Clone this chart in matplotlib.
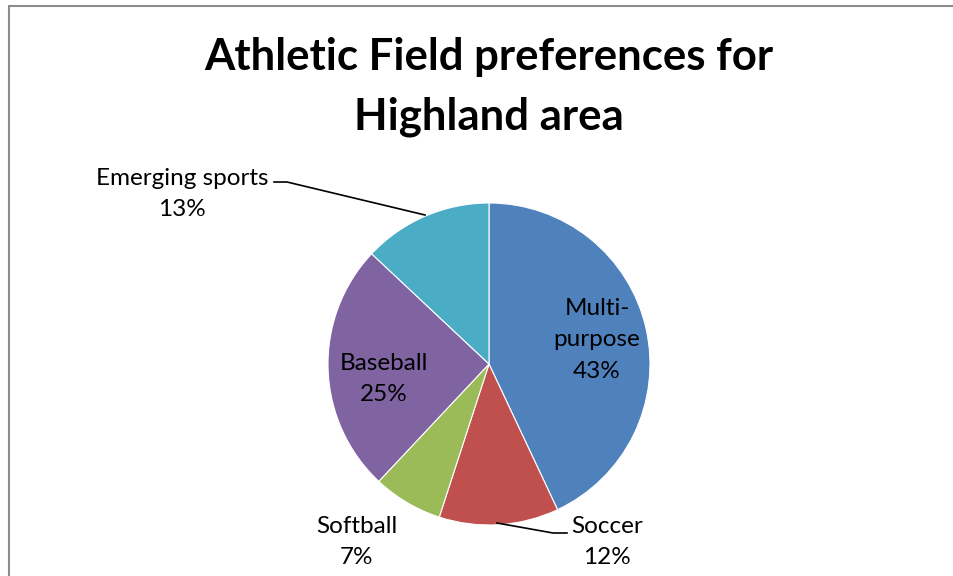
import matplotlib
matplotlib.use("Agg")
import matplotlib.pyplot as plt
from matplotlib.patches import Rectangle

categories = ["Multi-purpose", "Soccer", "Softball", "Baseball", "Emerging sports"]
display_labels = ["Multi-\npurpose", "Soccer", "Softball", "Baseball", "Emerging sports"]
values = [43, 12, 7, 25, 13]
colors = ["#4F81BD", "#C0504D", "#9BBB59", "#8064A2", "#4BACC6"]
title_lines = ["Athletic Field preferences for", "Highland area"]

plt.rcParams['font.family'] = ['Lato', 'DejaVu Sans']

W, H = 954, 576
fig = plt.figure(figsize=(W / 100, H / 100), dpi=100)
ax = fig.add_axes([0, 0, 1, 1])
ax.set_xlim(0, W)
ax.set_ylim(0, H)
ax.axis("off")

def Y(y):
    return H - y

# border
ax.add_patch(Rectangle((9.5, -10), W + 20, Y(5.5) + 10, fill=False,
                       edgecolor="#8c8c8c", linewidth=1.5))

ax.pie(values, colors=colors, startangle=90, counterclock=False,
       center=(489, Y(364)), radius=161,
       wedgeprops=dict(edgecolor="white", linewidth=0.8))
ax.set_xlim(0, W)
ax.set_ylim(0, H)
ax.set_aspect("auto")

ax.text(489, Y(57), title_lines[0], ha="center", va="center",
        fontsize=31.5, fontweight="bold", color="black")
ax.text(489, Y(117), title_lines[1], ha="center", va="center",
        fontsize=31.5, fontweight="bold", color="black")

label_pos = [(597, 340), (607, 542), (357, 542), (384, 379), (182, 194)]
for lab, v, (x, y) in zip(display_labels, values, label_pos):
    ax.text(x, Y(y), f"{lab}\n{v}%", ha="center", va="center",
            fontsize=17.5, color="black", linespacing=1.6)

# leader lines
ax.plot([274, 287, 425], [Y(182), Y(182), Y(215)], color="black", lw=1.2)
ax.plot([497, 553, 567], [Y(523), Y(533), Y(533)], color="black", lw=1.2)

fig.savefig("out.png", dpi=100)
